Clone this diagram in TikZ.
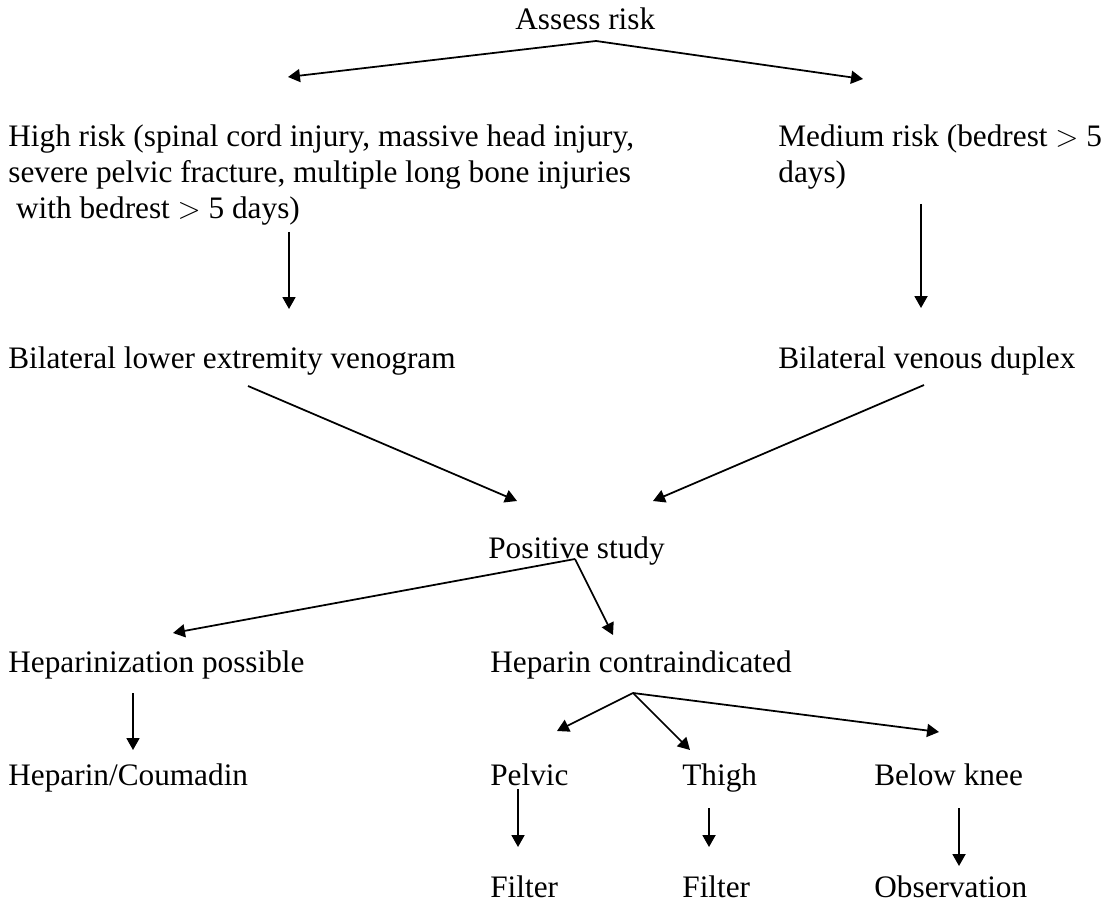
\documentclass[tikz,border=0pt]{standalone}
\usepackage{fontspec}
\setmainfont{Liberation Serif}
\usepackage{tikz}
\usetikzlibrary{arrows.meta, positioning}

\begin{document}
\begin{tikzpicture}[
    x=0.02cm, y=-0.02cm,
    txt/.style={anchor=base west, inner sep=0pt, align=left, font=\fontsize{17.8}{20.5}\selectfont},
    arrow/.style={-{Triangle[length=6.8pt, width=7.4pt]}, line width=1pt}
]
    \useasboundingbox (0,0) rectangle (1104,905);

    % Top level (multi-line nodes sit on their last baseline)
    \node[txt] (assess) at (515,30) {Assess risk};
    \node[txt] (high) at (8,219) {High risk (spinal cord injury, massive head injury,\\severe pelvic fracture, multiple long bone injuries\\\ with bedrest $>$ 5 days)};
    \node[txt] (medium) at (778,183) {Medium risk (bedrest $>$ 5\\days)};

    % Studies
    \node[txt] (venogram) at (8,368) {Bilateral lower extremity venogram};
    \node[txt] (duplex) at (778,368) {Bilateral venous duplex};
    \node[txt] (positive) at (488,558) {Positive study};

    % Treatment
    \node[txt] (possible) at (8,672) {Heparinization possible};
    \node[txt] (contra) at (490,672) {Heparin contraindicated};
    \node[txt] (coumadin) at (8,785) {Heparin/Coumadin};
    \node[txt] (pelvic) at (490,785) {Pelvic};
    \node[txt] (thigh) at (682,785) {Thigh};
    \node[txt] (below) at (874,785) {Below knee};
    \node[txt] (filterA) at (490,897) {Filter};
    \node[txt] (filterB) at (682,897) {Filter};
    \node[txt] (observ) at (874,897) {Observation};

    % Arrow end points
    \coordinate (assessfork) at (596,41);
    \coordinate (hightop) at (288,77);
    \coordinate (mediumtop) at (863,79);
    \coordinate (highout) at (289,232);
    \coordinate (venotop) at (289,309);
    \coordinate (mediumout) at (921,204);
    \coordinate (duplextop) at (921,308);
    \coordinate (venoout) at (248,386);
    \coordinate (duplexout) at (924,385);
    \coordinate (posleft) at (517,501);
    \coordinate (posright) at (653,501);
    \coordinate (posfork) at (575,559);
    \coordinate (possibletop) at (173,633);
    \coordinate (contratop) at (613,635);
    \coordinate (possibleout) at (133,693);
    \coordinate (coumadintop) at (133,750);
    \coordinate (contrafork) at (633,693);
    \coordinate (pelvictop) at (557,731);
    \coordinate (thightop) at (690,750);
    \coordinate (belowtop) at (939,732);
    \coordinate (pelvicout) at (518,789);
    \coordinate (filterAtop) at (518,847);
    \coordinate (thighout) at (709,808);
    \coordinate (filterBtop) at (709,847);
    \coordinate (belowout) at (959,808);
    \coordinate (observtop) at (959,866);

    % Arrows
    \draw[arrow] (assessfork) -- (hightop);
    \draw[arrow] (assessfork) -- (mediumtop);
    \draw[arrow] (highout) -- (venotop);
    \draw[arrow] (mediumout) -- (duplextop);
    \draw[arrow] (venoout) -- (posleft);
    \draw[arrow] (duplexout) -- (posright);
    \draw[arrow] (posfork) -- (possibletop);
    \draw[arrow] (posfork) -- (contratop);
    \draw[arrow] (possibleout) -- (coumadintop);
    \draw[arrow] (contrafork) -- (pelvictop);
    \draw[arrow] (contrafork) -- (thightop);
    \draw[arrow] (contrafork) -- (belowtop);
    \draw[arrow] (pelvicout) -- (filterAtop);
    \draw[arrow] (thighout) -- (filterBtop);
    \draw[arrow] (belowout) -- (observtop);

\end{tikzpicture}
\end{document}
